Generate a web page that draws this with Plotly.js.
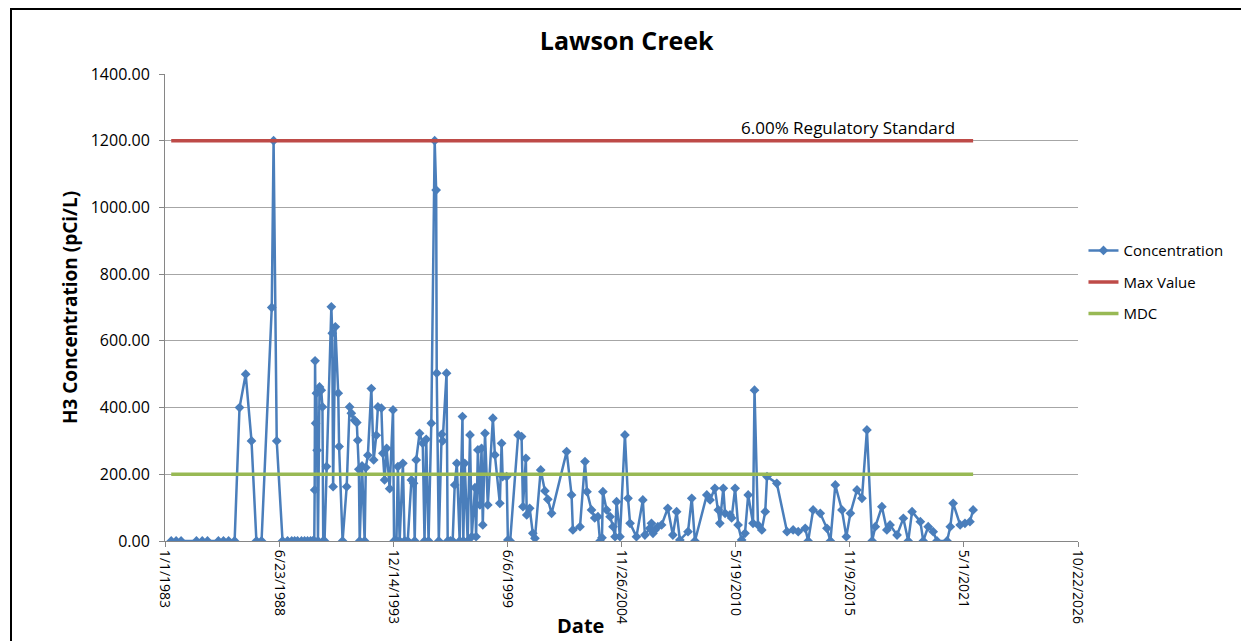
<!DOCTYPE html>
<html>
<head>
<meta charset="utf-8">
<script src="https://cdn.plot.ly/plotly-3.0.1.min.js"></script>
<style>
html, body { margin: 0; padding: 0; background: #ffffff; }
#wrap { position: relative; width: 1241px; height: 641px; overflow: hidden; }
#frame { position: absolute; left: 10px; top: 8px; width: 1260px; height: 660px; border: 2px solid #000; box-sizing: border-box; pointer-events: none; }
#chart { position: absolute; left: 0; top: 0; width: 1241px; height: 641px; }
</style>
</head>
<body>
<div id="wrap">
<div id="chart"></div>
<div id="frame"></div>
</div>
<script>
// Sample dates
const sampleDates = [
"1983-04-20","1983-07-15","1983-10-10","1984-07-05","1984-10-15","1985-01-15","1985-07-25","1985-10-22","1986-01-20","1986-05-05",
"1986-07-30","1986-11-15","1987-02-25","1987-05-22","1987-08-20","1988-02-15","1988-03-18","1988-05-12","1988-08-22","1988-11-18",
"1989-01-30","1989-03-22","1989-05-12","1989-07-20","1989-09-12","1989-11-03","1989-12-25","1990-02-01","1990-03-01","1990-03-08",
"1990-03-15","1990-03-25","1990-04-08","1990-04-20","1990-05-05","1990-06-01","1990-07-01","1990-07-22","1990-08-05","1990-08-28",
"1990-10-01","1990-12-25","1991-01-10","1991-01-25","1991-03-05","1991-04-25","1991-05-10","1991-07-10","1991-09-20","1991-11-10",
"1991-12-10","1992-02-05","1992-03-15","1992-04-01","1992-04-20","1992-05-05","1992-06-15","1992-07-31","1992-08-20","1992-09-25",
"1992-11-25","1993-01-05","1993-02-20","1993-03-20","1993-05-20","1993-06-15","1993-07-15","1993-08-20","1993-10-12","1993-12-10",
"1993-12-28","1994-02-08","1994-03-05","1994-04-05","1994-06-01","1994-07-01","1994-08-25","1994-10-28","1994-12-05","1994-12-25",
"1995-01-20","1995-03-20","1995-05-15","1995-06-15","1995-07-15","1995-08-25","1995-10-12","1995-12-10","1996-01-05","1996-01-15",
"1996-02-20","1996-04-10","1996-04-28","1996-07-05","1996-07-25","1996-09-10","1996-10-20","1996-11-25","1997-01-01","1997-02-20",
"1997-04-10","1997-04-25","1997-05-20","1997-07-10","1997-08-20","1997-09-20","1997-11-15","1997-12-05","1998-01-05","1998-02-10",
"1998-03-10","1998-04-01","1998-05-10","1998-06-28","1998-09-25","1998-10-30","1999-01-25","1999-02-25","1999-03-15","1999-05-25",
"1999-06-15","1999-07-25","1999-12-12","2000-02-10","2000-03-05","2000-04-25","2000-05-10","2000-07-01","2000-08-25","2000-10-01",
"2001-01-10","2001-03-25","2001-05-15","2001-07-20","2002-04-10","2002-07-05","2002-07-28","2002-11-30","2003-02-25","2003-04-01",
"2003-06-20","2003-08-15","2003-10-10","2003-11-15","2003-12-20","2004-01-05","2004-03-10","2004-05-10","2004-06-30","2004-08-05",
"2004-09-01","2004-10-30","2005-01-25","2005-03-20","2005-04-25","2005-08-15","2005-12-05","2006-01-10","2006-04-05","2006-05-05",
"2006-06-01","2006-07-05","2006-08-25","2006-10-30","2007-02-15","2007-05-15","2007-07-20","2007-09-15","2008-02-05","2008-04-10",
"2008-06-05","2008-12-30","2009-02-25","2009-05-20","2009-07-20","2009-08-15","2009-10-15","2009-11-15","2010-02-10","2010-03-10",
"2010-05-10","2010-07-01","2010-09-01","2010-10-30","2010-12-25","2011-03-20","2011-04-15","2011-06-15","2011-08-20","2011-10-20",
"2011-11-20","2012-05-10","2012-11-05","2013-02-20","2013-05-20","2013-09-20","2013-11-10","2014-02-05","2014-06-10","2014-10-05",
"2014-12-05","2015-03-01","2015-06-25","2015-09-10","2015-11-20","2016-03-15","2016-06-10","2016-09-05","2016-12-05","2017-01-30",
"2017-05-25","2017-08-20","2017-10-15","2018-02-15","2018-06-05","2018-08-30","2018-11-05","2019-03-30","2019-05-20","2019-08-15",
"2019-11-10","2020-01-15","2020-07-10","2020-09-05","2020-10-25","2021-02-25","2021-05-20","2021-08-15","2021-10-10"
];
// H3 concentration (pCi/L)
const concentration = [
0,0,0,0,0,0,0,0,0,0,
400,500,300,0,0,700,1200,300,0,0,
0,0,0,0,0,0,0,0,0,153,
540,353,443,272,0,462,452,402,0,0,
223,702,623,163,642,443,283,0,163,402,
383,362,355,302,215,0,225,0,220,257,
457,243,317,402,398,263,183,278,157,393,
0,0,223,0,233,0,0,183,173,0,
243,323,293,0,305,0,353,1200,1052,503,
0,320,300,503,0,0,0,168,233,0,
373,0,233,0,318,13,160,13,273,108,
278,48,323,108,368,258,113,293,193,193,
3,0,318,313,103,248,78,98,23,8,
213,150,125,83,268,138,33,43,238,148,
93,69,73,0,10,148,93,73,43,13,
118,13,318,128,53,13,123,18,38,53,
23,33,43,48,98,18,88,3,28,128,
0,138,123,158,93,53,158,83,78,69,
158,48,3,23,138,53,452,48,33,88,
193,173,28,33,28,38,0,93,83,38,
0,168,93,13,83,153,128,333,0,43,
103,33,48,18,68,0,88,58,0,43,
28,0,0,43,113,48,53,58,93
];
// Reference levels
const maxValue = 1200;       // 6.00% Regulatory Standard
const mdcValue = 200;        // MDC
const limitDates = [sampleDates[0], sampleDates[sampleDates.length - 1]];
const seriesNames = ["Concentration", "Max Value", "MDC"];
const xRange = ["1983-01-01", "2026-10-22"];
const yTicks = [0, 200, 400, 600, 800, 1000, 1200, 1400];

const FONT = "Open Sans, Liberation Sans, sans-serif";

const traces = [
  {
    x: sampleDates, y: concentration, name: seriesNames[0], type: "scatter", mode: "lines+markers",
    legendgroup: "a",
    line: { color: "#4A7EBB", width: 2.5 },
    marker: { symbol: "diamond", size: 7.5, color: "#4A7EBB" }
  },
  {
    x: limitDates, y: limitDates.map(() => maxValue), name: seriesNames[1], type: "scatter", mode: "lines",
    legendgroup: "b",
    line: { color: "#BE4B48", width: 3.5 }
  },
  {
    x: limitDates, y: limitDates.map(() => mdcValue), name: seriesNames[2], type: "scatter", mode: "lines",
    legendgroup: "c",
    line: { color: "#98B954", width: 3.5 }
  }
];

const layout = {
  width: 1241, height: 641,
  margin: { l: 165, r: 163, t: 74, b: 100, pad: 0 },
  paper_bgcolor: "#ffffff", plot_bgcolor: "#ffffff",
  font: { family: FONT, size: 14, color: "#000" },
  title: { text: "<b>Lawson Creek</b>", font: { family: FONT, size: 25, color: "#000" }, x: 0.505, xref: "container", y: 0.935, yref: "container", yanchor: "middle" },
  showlegend: true,
  legend: { x: 1.006, y: 0.657, xanchor: "left", yanchor: "top", traceorder: "grouped", tracegroupgap: 9,
            font: { family: FONT, size: 15, color: "#000" }, bgcolor: "rgba(0,0,0,0)", itemwidth: 30 },
  xaxis: {
    type: "date", range: xRange, tick0: xRange[0], dtick: 2000 * 86400000,
    tickformat: "%-m/%-d/%Y", tickangle: 90, ticks: "outside", ticklen: 5, tickcolor: "#868686",
    showline: true, linecolor: "#868686", linewidth: 1, showgrid: false, zeroline: false,
    tickfont: { family: FONT, size: 14, color: "#000" }, fixedrange: true
  },
  yaxis: {
    range: [0, 1400], tickvals: yTicks, tickformat: ".2f",
    ticks: "outside", ticklen: 5, tickcolor: "#868686", ticklabelstandoff: 6,
    showline: true, linecolor: "#868686", linewidth: 1,
    showgrid: true, gridcolor: "#a6a6a6", gridwidth: 1, zeroline: false,
    tickfont: { family: FONT, size: 16, color: "#000" },
    title: { text: "<b>H3 Concentration (pCi/L)</b>", font: { family: FONT, size: 19, color: "#000" }, standoff: 8 },
    fixedrange: true
  },
  annotations: [
    { x: "2015-10-12", y: maxValue, xref: "x", yref: "y", text: "6.00% Regulatory Standard", showarrow: false, yanchor: "bottom", yshift: 0, font: { family: FONT, size: 17, color: "#000" } },
    { x: 0.455, y: -0.18, xref: "paper", yref: "paper", text: "<b>Date</b>", showarrow: false, yanchor: "middle", font: { family: FONT, size: 20, color: "#000" } }
  ]
};

Plotly.newPlot("chart", traces, layout, { displayModeBar: false, staticPlot: true });
</script>
</body>
</html>
